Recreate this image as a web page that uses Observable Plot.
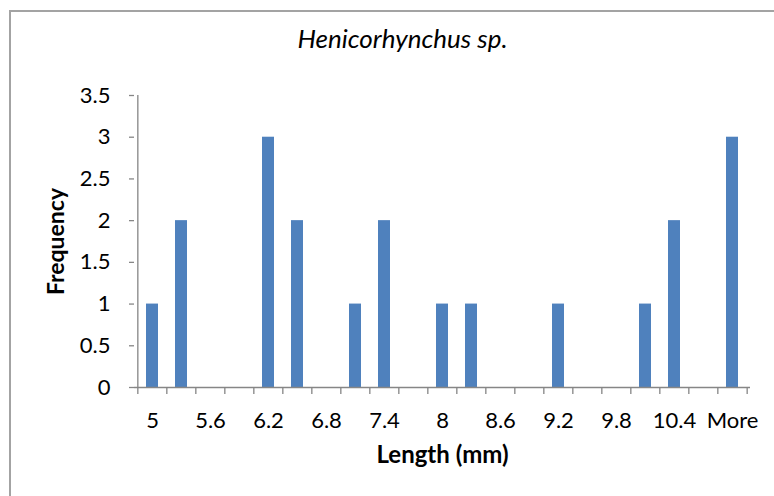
<!DOCTYPE html>
<html>
<head>
<meta charset="utf-8">
<script src="https://cdn.jsdelivr.net/npm/d3@7"></script>
<script src="https://cdn.jsdelivr.net/npm/@observablehq/plot@0.6"></script>
<style>
  html, body { margin: 0; padding: 0; background: #fff; overflow: hidden; }
  #chart { position: relative; width: 774px; height: 496px; }
  #chart svg { position: absolute; left: 0; top: 0; }
  #border {
    position: absolute; left: 9px; top: 10px; width: 900px; height: 700px;
    border-top: 2px solid #a3a3a3; border-left: 2px solid #a3a3a3;
    pointer-events: none;
  }
</style>
</head>
<body>
<div id="chart"><div id="border"></div></div>
<script>
// Histogram bins (upper bounds, 0.3 mm apart) and their counts
const bins = ["5", "5.3", "5.6", "5.9", "6.2", "6.5", "6.8", "7.1", "7.4", "7.7", "8",
              "8.3", "8.6", "8.9", "9.2", "9.5", "9.8", "10.1", "10.4", "10.7", "More"];
const frequency = [1, 2, 0, 0, 3, 2, 0, 1, 2, 0, 1,
                   1, 0, 0, 1, 0, 0, 1, 2, 0, 3];
// Every other bin is labelled on the axis
const binLabels = ["5", "5.6", "6.2", "6.8", "7.4", "8", "8.6", "9.2", "9.8", "10.4", "More"];
const yTicks = [0, 0.5, 1, 1.5, 2, 2.5, 3, 3.5];

const title = "Henicorhynchus sp.";
const xTitle = "Length (mm)";
const yTitle = "Frequency";

const rows = bins.map((bin, i) => ({bin, count: frequency[i]}));

const W = 774, H = 496;
const margin = {top: 95, right: 24, bottom: 109, left: 134};
const step = (W - margin.left - margin.right) / bins.length;
const axisGray = "#868686";
const font = "Lato, 'Open Sans', sans-serif";
const tickFont = 22;

const chart = Plot.plot({
  width: W,
  height: H,
  marginTop: margin.top,
  marginRight: margin.right,
  marginBottom: margin.bottom,
  marginLeft: margin.left,
  style: {fontFamily: font, fontSize: "22px", color: "#000", background: "transparent"},
  x: {domain: bins, paddingInner: 0.6, paddingOuter: 0.3, align: 0.5},
  y: {domain: [0, 3.5]},
  marks: [
    Plot.barY(rows, {x: "bin", y: "count", fill: "#4F81BD"}),
    // axis lines
    Plot.ruleY([0], {stroke: axisGray, strokeWidth: 1.3}),
    Plot.ruleX([bins[0]], {dx: -step / 2, stroke: axisGray, strokeWidth: 1.3}),
    // tick marks on the bin boundaries
    Plot.axisX({ticks: bins, text: null, label: null, tickSize: 7, dx: -step / 2,
                stroke: axisGray, strokeWidth: 1.3}),
    Plot.axisX({ticks: [bins[bins.length - 1]], text: null, label: null, tickSize: 7, dx: step / 2,
                stroke: axisGray, strokeWidth: 1.3}),
    // bin labels under the bars
    Plot.axisX({ticks: binLabels, tickSize: 0, tickPadding: 25, fill: "#000", label: null,
                fontSize: tickFont}),
    Plot.axisY({ticks: yTicks, tickFormat: d => String(d), tickSize: 5, tickPadding: 19,
                stroke: axisGray, strokeWidth: 1.3, fill: "#000", label: null, fontSize: tickFont}),
    // titles
    Plot.text([title], {text: d => d, frameAnchor: "top", dx: -40, dy: -56, lineAnchor: "middle",
                        textAnchor: "middle", fontStyle: "italic", fontSize: 26, fill: "#000"}),
    Plot.text([xTitle], {text: d => d, frameAnchor: "bottom", dy: 68, lineAnchor: "middle",
                         textAnchor: "middle", fontWeight: "bold", fontSize: 24, fill: "#000"}),
    Plot.text([yTitle], {text: d => d, frameAnchor: "left", dx: -78, rotate: -90, lineAnchor: "middle",
                         textAnchor: "middle", fontWeight: "bold", fontSize: 23, fill: "#000"})
  ]
});

document.getElementById("chart").appendChild(chart);
</script>
</body>
</html>
